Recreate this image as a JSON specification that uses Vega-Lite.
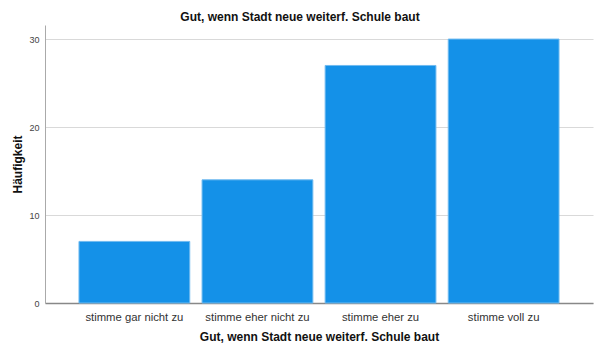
{
  "$schema": "https://vega.github.io/schema/vega-lite/v6.json",
  "width": 548,
  "height": 278,
  "autosize": "none",
  "padding": {"left": 45, "top": 25, "right": 7, "bottom": 50},
  "background": "white",
  "title": {
    "text": "Gut, wenn Stadt neue weiterf. Schule baut",
    "font": "Liberation Sans",
    "fontSize": 12,
    "fontWeight": "bold",
    "color": "#111111",
    "anchor": "middle",
    "dx": -19,
    "offset": 1
  },
  "data": {
    "values": [
      {"antwort": "stimme gar nicht zu", "haeufigkeit": 7},
      {"antwort": "stimme eher nicht zu", "haeufigkeit": 14},
      {"antwort": "stimme eher zu", "haeufigkeit": 27},
      {"antwort": "stimme voll zu", "haeufigkeit": 30}
    ]
  },
  "mark": {"type": "bar", "color": "#1491e8", "stroke": "#6fbaf0", "strokeWidth": 1},
  "encoding": {
    "x": {
      "field": "antwort",
      "type": "nominal",
      "sort": null,
      "scale": {"paddingInner": 0.1, "paddingOuter": 0.276},
      "axis": {
        "title": "Gut, wenn Stadt neue weiterf. Schule baut",
        "titleFont": "Liberation Sans",
        "titleFontSize": 12,
        "titleFontWeight": "bold",
        "titleColor": "#111111",
        "titlePadding": 9,
        "labelAngle": 0,
        "labelFont": "Liberation Sans",
        "labelFontSize": 11.3,
        "labelColor": "#333333",
        "labelPadding": 8,
        "ticks": false,
        "domainColor": "#888888",
        "domainWidth": 1.5
      }
    },
    "y": {
      "field": "haeufigkeit",
      "type": "quantitative",
      "scale": {"domain": [0, 31.6], "nice": false},
      "axis": {
        "title": "Häufigkeit",
        "titleFont": "Liberation Sans",
        "titleFontSize": 12,
        "titleFontWeight": "bold",
        "titleColor": "#111111",
        "titlePadding": 4,
        "values": [0, 10, 20, 30],
        "labelFont": "Liberation Sans",
        "labelFontSize": 9,
        "labelColor": "#444444",
        "labelPadding": 6,
        "ticks": false,
        "grid": true,
        "gridColor": "#d9d9d9",
        "gridWidth": 1,
        "domainColor": "#aaaaaa"
      }
    }
  },
  "config": {"view": {"stroke": null}}
}
